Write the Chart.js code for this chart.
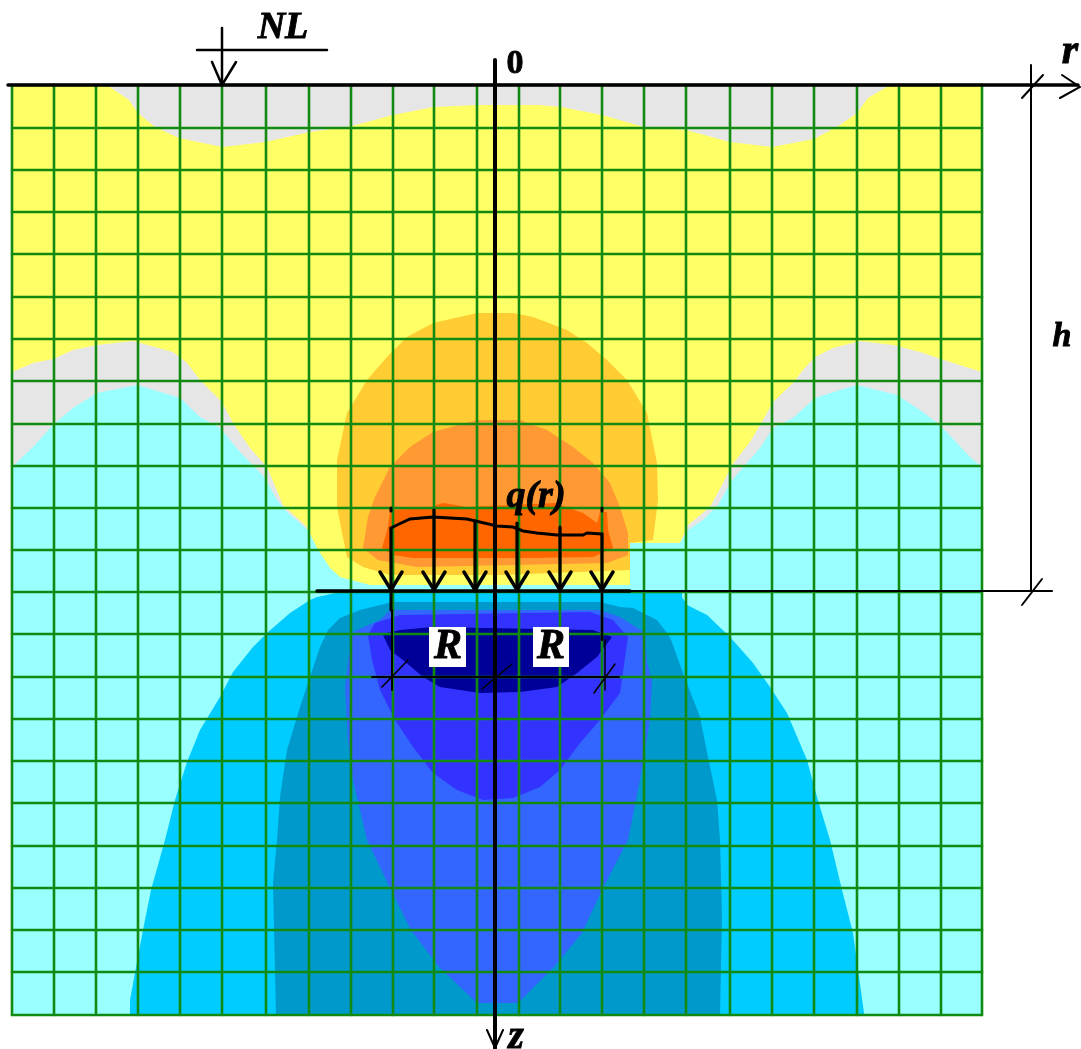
<!DOCTYPE html>
<html>
<head>
<meta charset="utf-8">
<title>Temperature field around a disc source</title>
<script src="https://cdn.jsdelivr.net/npm/chart.js@4"></script>
<style>
  html, body { margin: 0; padding: 0; background: #fff; }
  canvas { display: block; }
</style>
</head>
<body>
<canvas id="field" width="1081" height="1049"></canvas>
<script>
// grid lines, r and z measured from the axis origin
const gridR = [-483,-441,-399,-357,-315,-273,-229,-186,-144,-102,-61,-18,24,65,107,149,191,235,277,319,362,404,446,487];
const gridZ = [0,43,85,127,169,212,254,296,339,381,423,465,507,549,592,634,676,718,761,803,845,887,930];

// contour bands as [r, z] outlines, back to front
const bandBase = [[-483,0],[487,0],[487,930],[-483,930]];
const bandGrayTop = [[-388,0],[-366,15],[-357,28],[-340,42],[-316,53],[-273,62],[-230,57],[-185,47],[-143,41],[-102,30],[-61,22],[-18,20],[45,20],[66,22],[107,30],[149,42],[191,45],[235,57],[277,62],[319,54],[345,40],[362,28],[373,13],[395,0]];
const bandGrayLeft = [[-483,287],[-462,278],[-442,274],[-422,265],[-398,260],[-362,256],[-322,267],[-308,278],[-295,295],[-273,317],[-262,338],[-245,363],[-228,382],[-212,420],[-188,442],[-188,600],[-483,600]];
const bandGrayRight = [[487,287],[455,277],[425,267],[398,260],[365,256],[338,263],[320,272],[308,285],[298,298],[278,317],[268,335],[255,357],[237,380],[228,398],[215,422],[193,440],[185,458],[185,600],[487,600]];
const bandLightCyan = [[-483,382],[-462,362],[-442,340],[-422,323],[-398,308],[-358,300],[-315,313],[-295,332],[-275,343],[-255,367],[-230,393],[-218,415],[-208,427],[-187,445],[-178,463],[-165,483],[-155,492],[-125,500],[135,500],[135,458],[185,458],[193,445],[208,435],[223,420],[237,395],[265,363],[278,343],[298,333],[320,313],[345,305],[362,300],[402,310],[425,325],[445,340],[475,372],[487,382],[487,930],[-483,930]];
const bandCyan = [[-365,930],[-365,915],[-352,845],[-344,805],[-330,755],[-320,715],[-308,677],[-295,645],[-275,612],[-262,587],[-242,562],[-228,548],[-205,528],[-185,515],[-178,512],[-155,507],[187,507],[187,512],[192,520],[212,530],[235,552],[258,578],[275,602],[292,628],[312,675],[322,712],[335,755],[347,805],[358,848],[369,928],[369,930]];
const bandTeal = [[-219,930],[-222,798],[-218,755],[-215,712],[-208,665],[-195,622],[-185,592],[-175,562],[-167,545],[-155,533],[-135,525],[-115,520],[-102,517],[105,517],[125,522],[138,523],[162,535],[175,552],[188,588],[205,632],[213,672],[222,715],[225,755],[227,832],[225,930]];
const bandBlue = [[-18,918],[-56,882],[-84,845],[-104,805],[-128,755],[-142,695],[-147,655],[-150,602],[-145,562],[-142,547],[-115,535],[-105,525],[105,525],[125,532],[150,548],[152,578],[157,595],[155,635],[145,695],[133,755],[107,805],[87,848],[59,882],[23,918]];
const bandDeep = [[-127,550],[-123,575],[-115,605],[-100,635],[-82,662],[-62,688],[-38,705],[-12,715],[18,713],[45,702],[65,685],[85,658],[105,635],[125,608],[133,552],[118,535],[95,527],[-95,530],[-120,538]];
const bandNavy = [[-112,550],[-105,565],[-92,575],[-72,592],[-55,602],[-15,608],[25,607],[62,602],[82,588],[102,572],[117,552],[98,545],[-62,542],[-95,545],[-108,548]];
const bandAmber = [[-18,228],[18,228],[38,232],[72,245],[92,258],[112,275],[132,295],[152,328],[162,378],[163,415],[158,455],[135,458],[135,485],[5,490],[-105,490],[-132,482],[-148,472],[-153,448],[-158,422],[-158,375],[-148,328],[-128,295],[-108,272],[-88,252],[-62,238]];
const bandOrange = [[-18,335],[25,335],[52,345],[78,362],[98,378],[115,398],[125,422],[133,448],[133,470],[112,478],[-78,482],[-117,475],[-132,463],[-127,432],[-120,412],[-105,382],[-85,362],[-62,347]];
const bandRed = [[-105,425],[-68,423],[-52,418],[-28,422],[60,418],[88,428],[102,438],[105,427],[112,427],[113,445],[118,463],[98,472],[35,473],[-48,473],[-82,473],[-102,470],[-113,463],[-107,442]];

// flux q(r) curve and the arrows hanging from it
const fluxCurve = [[-104,443],[-98,440],[-85,434],[-62,432],[-28,434],[2,441],[18,442],[28,446],[42,448],[62,450],[88,450],[92,448],[107,449]];
const arrowR = [-104,-61,-20,22,65,107];
const arrowTop = [443,425,436,438,442,449];
const sourceZ = 505;

const bands = [
  [bandBase, '#FFFF66'], [bandGrayTop, '#E6E6E6'], [bandGrayLeft, '#E6E6E6'], [bandGrayRight, '#E6E6E6'],
  [bandLightCyan, '#99FFFF'], [bandCyan, '#00CCFF'], [bandTeal, '#0099CC'], [bandBlue, '#3366FF'],
  [bandDeep, '#3333FF'], [bandNavy, '#000099'], [bandAmber, '#FFCC33'], [bandOrange, '#FF9933'], [bandRed, '#FF6600']
];

const toPts = a => a.map(p => ({ x: p[0], y: p[1] }));
const datasets = [];
function addShape(pts, color) {
  datasets.push({ data: toPts(pts), showLine: true, fill: 'shape', backgroundColor: color, borderColor: color, borderWidth: 0, pointRadius: 0, tension: 0 });
}
function addLine(pts, width, color) {
  datasets.push({ data: toPts(pts), showLine: true, fill: false, borderColor: color || '#000', borderWidth: width, pointRadius: 0, tension: 0, borderCapStyle: 'round' });
}

bands.forEach(b => addShape(b[0], b[1]));
gridR.forEach(r => addLine([[r, gridZ[0]], [r, gridZ[gridZ.length - 1]]], 2.6, '#128a12'));
gridZ.forEach(z => addLine([[gridR[0], z], [gridR[gridR.length - 1], z]], 2.6, '#128a12'));

// white plates behind the R labels
addShape([[-66,542],[-29,542],[-29,582],[-66,582]], '#fff');
addShape([[38,542],[74,542],[74,582],[38,582]], '#fff');

// axes
addLine([[-487,0],[583,0]], 3.5);
addLine([[567,-10],[585,2],[565,13]], 2);
addLine([[0,-25],[0,963]], 4);
addLine([[-8,945],[0,963],[8,945]], 2);

// NL mark
addLine([[-273,-57],[-273,0]], 2.5);
addLine([[-298,-35],[-168,-35]], 2.5);
addLine([[-283,-23],[-273,0],[-259,-23]], 2.5);

// depth h dimension
addLine([[536,-20],[536,506]], 2);
addLine([[527,13],[548,-10]], 2);
addLine([[135,506],[557,506]], 2);
addLine([[527,520],[547,494]], 2);

// source plane and flux
addLine([[-178,506],[135,506]], 3.5);
addLine(fluxCurve, 3);
addLine([[-104,423],[-104,426]], 3);
addLine([[107,423],[107,426]], 3);
arrowR.forEach((r, i) => {
  addLine([[r, arrowTop[i]], [r, sourceZ]], 3.2);
  addLine([[r - 11, sourceZ - 18], [r, sourceZ], [r + 11, sourceZ - 18]], 3.5);
});

// R dimensions under the source
addLine([[-104,506],[-104,525]], 3);
addLine([[-103,525],[-103,605]], 2);
addLine([[107,506],[107,555]], 2.5);
addLine([[110,555],[110,605]], 1.5);
addLine([[-123,592],[124,592]], 2);
addLine([[-113,602],[-87,575]], 1.5);
addLine([[-13,604],[17,579]], 1.5);
addLine([[99,608],[120,579]], 1.5);

datasets.forEach((d, i) => { d.order = -i; });

const labelText = ['NL', '0', 'r', 'h', 'q(r)', 'R', 'R', 'z'];
const labelR = [-212, 20, 575, 567, 41, -47, 56, 21];
const labelZ = [-57, -21, -33, 252, 412, 562, 562, 953];
const labelSize = [38, 34, 42, 34, 38, 42, 42, 40];

const labelsPlugin = {
  id: 'fieldLabels',
  afterDatasetsDraw(chart) {
    const c = chart.ctx;
    c.save();
    c.fillStyle = '#000';
    c.strokeStyle = '#000';
    c.lineWidth = 0.9;
    c.textAlign = 'center';
    c.textBaseline = 'middle';
    labelText.forEach((t, i) => {
      const weight = t === '0' ? 'bold' : 'italic bold';
      c.font = weight + ' ' + labelSize[i] + 'px "Liberation Serif", serif';
      const px = chart.scales.x.getPixelForValue(labelR[i]);
      const py = chart.scales.y.getPixelForValue(labelZ[i]);
      c.fillText(t, px, py);
      c.strokeText(t, px, py);
    });
    c.restore();
  }
};

new Chart(document.getElementById('field').getContext('2d'), {
  type: 'scatter',
  data: { datasets: datasets },
  options: {
    responsive: false,
    animation: false,
    devicePixelRatio: 1,
    layout: { padding: 0 },
    plugins: { legend: { display: false }, tooltip: { enabled: false } },
    scales: {
      x: { type: 'linear', display: false, min: -495, max: 586 },
      y: { type: 'linear', display: false, reverse: true, min: -85, max: 964 }
    }
  },
  plugins: [labelsPlugin]
});
</script>
</body>
</html>
